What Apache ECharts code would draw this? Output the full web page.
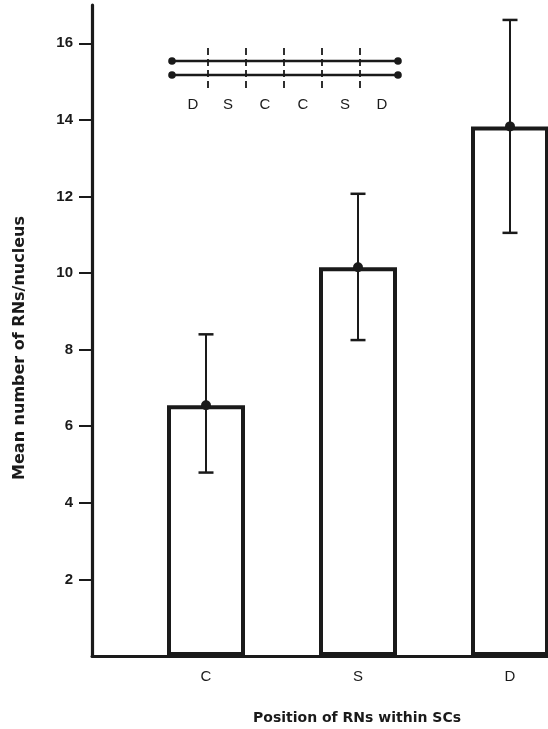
<!DOCTYPE html>
<html>
<head>
<meta charset="utf-8">
<script src="https://cdn.jsdelivr.net/npm/echarts@6/dist/echarts.min.js"></script>
<style>
html,body{margin:0;padding:0;background:#fff;}
#chart{width:548px;height:729px;}
</style>
</head>
<body>
<div id="chart"></div>
<script>
// Data
var categories = ['C', 'S', 'D'];
var means = [6.55, 10.15, 13.83];
var lowers = [4.79, 8.25, 11.05];
var uppers = [8.40, 12.07, 16.61];
var yTicks = [2, 4, 6, 8, 10, 12, 14, 16];
var insetLabels = ['D', 'S', 'C', 'C', 'S', 'D'];

var INK = '#1a1a1a';
var positions = categories.map(function (c, i) { return i + 1; });
var barData = positions.map(function (p, i) { return [p, means[i]]; });
var errData = positions.map(function (p, i) { return [p, lowers[i], uppers[i], means[i]]; });

// inset diagram and titles (annotation, not data)
var g = [];
var lx0 = 172, lx1 = 398;
[61, 75].forEach(function (yy) {
  g.push({ type: 'line', shape: { x1: lx0, y1: yy, x2: lx1, y2: yy }, style: { stroke: INK, lineWidth: 2.6 } });
  g.push({ type: 'circle', shape: { cx: lx0, cy: yy, r: 3.8 }, style: { fill: INK } });
  g.push({ type: 'circle', shape: { cx: lx1, cy: yy, r: 3.8 }, style: { fill: INK } });
});
[208, 246, 284, 322, 360].forEach(function (xx) {
  g.push({ type: 'line', shape: { x1: xx, y1: 48, x2: xx, y2: 88 }, style: { stroke: INK, lineWidth: 1.8, lineDash: [7, 4] } });
});
var insetX = [193, 228, 265, 303, 345, 382];
insetLabels.forEach(function (t, i) {
  g.push({ type: 'text', x: insetX[i], y: 105, style: { text: t, fill: INK, font: '15px "Liberation Sans", Arial, sans-serif', textAlign: 'center', textVerticalAlign: 'middle' } });
});
g.push({ type: 'text', x: 357, y: 718, style: { text: 'Position of RNs within SCs', fill: INK, font: 'bold 14px "DejaVu Sans", sans-serif', textAlign: 'center', textVerticalAlign: 'middle' } });
g.push({ type: 'text', x: 20, y: 348, rotation: Math.PI / 2, style: { text: 'Mean number of RNs/nucleus', fill: INK, font: 'bold 16px "DejaVu Sans", sans-serif', textAlign: 'center', textVerticalAlign: 'middle' } });

var chart = echarts.init(document.getElementById('chart'), null, { renderer: 'canvas' });
chart.setOption({
  backgroundColor: '#ffffff',
  animation: false,
  grid: { left: 92, right: 0, top: 5, bottom: 73 },
  xAxis: {
    type: 'value',
    min: 0.25,
    max: 3.25,
    splitLine: { show: false },
    axisLine: { show: true, lineStyle: { color: INK, width: 3 } },
    axisTick: { show: false },
    axisLabel: {
      customValues: positions,
      formatter: function (v) { return categories[Math.round(v) - 1] || ''; },
      color: INK, fontSize: 15, margin: 13,
      fontFamily: '"Liberation Sans", Arial, sans-serif'
    }
  },
  yAxis: {
    type: 'value',
    min: 0,
    max: 17,
    splitLine: { show: false },
    axisLine: { show: true, lineStyle: { color: INK, width: 3.2 } },
    axisTick: { show: true, customValues: yTicks, length: 13, inside: false, lineStyle: { color: INK, width: 2 } },
    axisLabel: {
      customValues: yTicks,
      color: INK, fontSize: 15, fontWeight: 'bold', margin: 19,
      fontFamily: '"Liberation Sans", Arial, sans-serif'
    }
  },
  series: [
    {
      type: 'bar',
      data: barData,
      barWidth: 78,
      itemStyle: { color: '#ffffff', borderColor: INK, borderWidth: 4 },
      z: 2
    },
    {
      type: 'custom',
      data: errData,
      encode: { x: 0, y: [1, 2] },
      z: 3,
      renderItem: function (params, api) {
        var x = api.value(0);
        var lo = api.coord([x, api.value(1)]);
        var hi = api.coord([x, api.value(2)]);
        var m = api.coord([x, api.value(3)]);
        var cap = 7.5;
        return {
          type: 'group',
          children: [
            { type: 'line', shape: { x1: lo[0], y1: lo[1], x2: hi[0], y2: hi[1] }, style: { stroke: INK, lineWidth: 2 } },
            { type: 'line', shape: { x1: lo[0] - cap, y1: lo[1], x2: lo[0] + cap, y2: lo[1] }, style: { stroke: INK, lineWidth: 2.5 } },
            { type: 'line', shape: { x1: hi[0] - cap, y1: hi[1], x2: hi[0] + cap, y2: hi[1] }, style: { stroke: INK, lineWidth: 2.5 } },
            { type: 'circle', shape: { cx: m[0], cy: m[1], r: 5 }, style: { fill: INK } }
          ]
        };
      }
    }
  ],
  graphic: g
});
</script>
</body>
</html>
